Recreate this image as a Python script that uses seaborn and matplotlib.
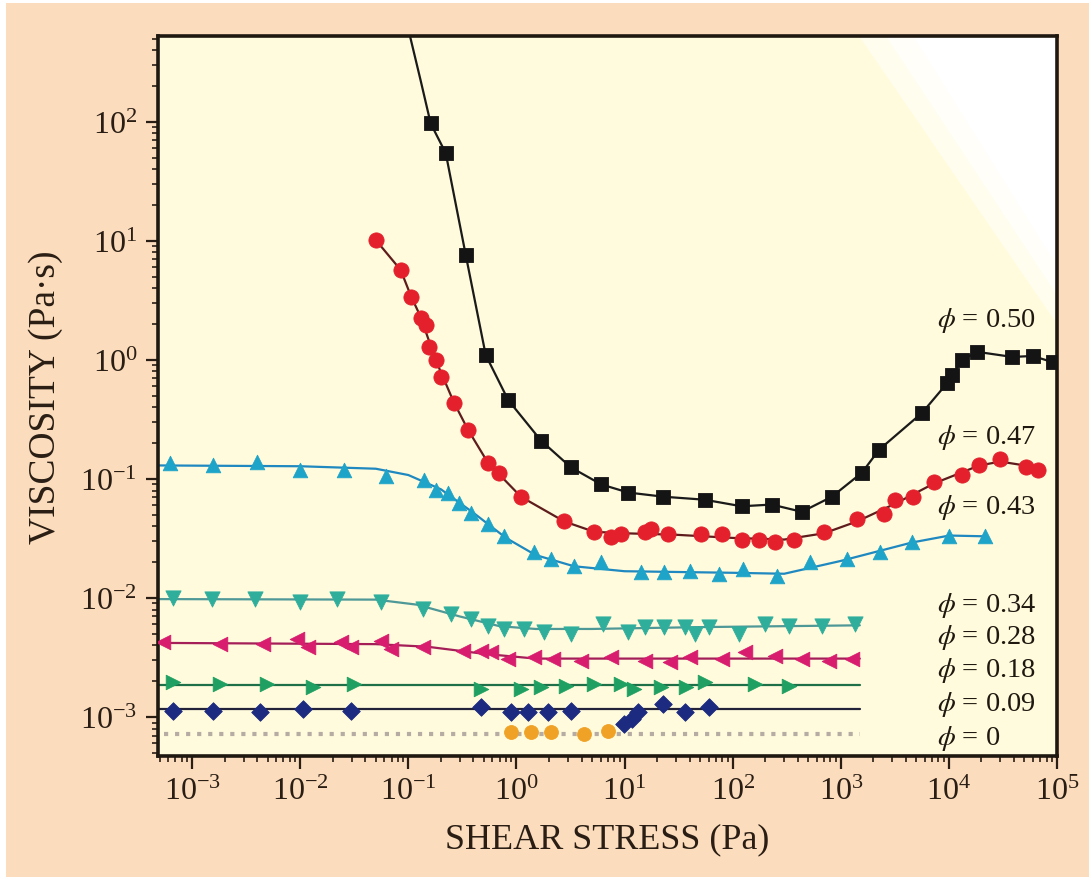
import numpy as np
import pandas as pd
import matplotlib
matplotlib.use("Agg")
import matplotlib.pyplot as plt
from matplotlib.patches import Rectangle, Polygon
from matplotlib.ticker import LogLocator, LogFormatterSciNotation, NullFormatter
import seaborn as sns

# ---------------- data: viscosity vs shear stress for several volume fractions ----------------
# phi = 0.50
x050 = [0.161, 0.222, 0.34, 0.52, 0.84, 1.69, 3.2, 6.1, 10.8, 22.9, 55, 121, 230, 437, 828,
        1570, 2260, 5660, 9660, 10760, 13300, 18300, 38700, 59400, 91000]
y050 = [97, 54.6, 7.6, 1.1, 0.46, 0.21, 0.125, 0.090, 0.077, 0.071, 0.067, 0.059, 0.061, 0.053,
        0.071, 0.113, 0.176, 0.36, 0.64, 0.75, 1.0, 1.17, 1.06, 1.08, 0.96]
fit_x050 = [0.098, 0.13] + x050 + [1.0e5]
fit_y050 = [650, 223] + y050 + [0.95]

# phi = 0.47
x047 = [0.0499, 0.085, 0.105, 0.130, 0.145, 0.154, 0.179, 0.2, 0.264, 0.356, 0.545, 0.69, 1.10,
        2.77, 5.25, 7.55, 9.3, 15.3, 17.7, 25.5, 51.5, 79, 121, 174, 245, 368, 698, 1413, 2518,
        3184, 4677, 7330, 13300, 19140, 30000, 51200, 66100]
y047 = [10.2, 5.7, 3.38, 2.25, 1.97, 1.29, 1.0, 0.72, 0.436, 0.26, 0.137, 0.113, 0.071,
        0.044, 0.0356, 0.0323, 0.0342, 0.0362, 0.0377, 0.0342, 0.0342, 0.0342, 0.031, 0.031,
        0.0293, 0.031, 0.0356, 0.0457, 0.0504, 0.067, 0.071, 0.095, 0.109, 0.132, 0.146, 0.127, 0.12]
fit_x047 = [0.0499, 0.085, 0.105, 0.13, 0.179, 0.264, 0.356, 0.545, 1.10, 2.77, 5.25, 10, 30,
            100, 300, 700, 1413, 3184, 7330, 19140, 30000, 66100]
fit_y047 = [10.2, 5.7, 3.5, 2.3, 1.0, 0.44, 0.26, 0.137, 0.071, 0.044, 0.036, 0.035, 0.034,
            0.032, 0.031, 0.035, 0.044, 0.062, 0.092, 0.13, 0.14, 0.125]

# phi = 0.43
x043 = [6.25e-4, 1.57e-3, 4.0e-3, 0.01, 0.0252, 0.0617, 0.139, 0.179, 0.232, 0.294, 0.379,
        0.546, 0.767, 1.46, 2.09, 3.42, 6.1, 14.3, 23.4, 39.9, 74, 126, 256, 518, 1143, 2312,
        4571, 10090, 21780]
y043 = [0.137, 0.132, 0.140, 0.120, 0.120, 0.105, 0.099, 0.0815, 0.0769, 0.0634, 0.0522,
        0.0415, 0.0329, 0.0242, 0.0211, 0.0185, 0.0199, 0.0164, 0.0164, 0.0168, 0.0158, 0.0174,
        0.0152, 0.0199, 0.0211, 0.0242, 0.0293, 0.0329, 0.0329]
fit_x043 = [4.84e-4, 0.01, 0.05, 0.1, 0.2, 0.4, 0.8, 1.5, 3.4, 10, 100, 300, 1000, 4571, 10090, 21780]
fit_y043 = [0.130, 0.128, 0.122, 0.108, 0.082, 0.052, 0.032, 0.023, 0.0185, 0.0168, 0.0163,
            0.0160, 0.0205, 0.0293, 0.0335, 0.0330]

# phi = 0.34
x034 = [6.67e-4, 1.53e-3, 3.84e-3, 0.01, 0.0221, 0.0555, 0.136, 0.247, 0.379, 0.546, 0.767,
        1.18, 1.80, 3.21, 6.36, 10.8, 15.3, 23.4, 35.9, 44.4, 59.9, 114, 198, 330, 670, 1355]
y034 = [0.0101, 0.00975, 0.00975, 0.0092, 0.00975, 0.0092, 0.00803, 0.0073, 0.00662, 0.0058,
        0.00547, 0.00547, 0.00515, 0.00497, 0.00603, 0.00515, 0.00567, 0.00567, 0.00567, 0.00497,
        0.00567, 0.00497, 0.00603, 0.0058, 0.0058, 0.00603]
fit_x034 = [4.84e-4, 0.05, 0.12, 0.3, 0.7, 1.5, 5, 50, 1500]
fit_y034 = [0.0098, 0.0097, 0.0088, 0.0070, 0.0058, 0.0055, 0.0055, 0.0057, 0.0059]

# phi = 0.28
x028 = [5.38e-4, 1.82e-3, 4.56e-3, 9.42e-3, 0.0117, 0.0236, 0.0292, 0.0555, 0.0687, 0.136, 0.32,
        0.47, 0.581, 0.836, 1.46, 2.19, 3.97, 7.55, 15.3, 26.1, 39.9, 79, 129, 245, 437, 778, 1270]
y028 = [0.00426, 0.00409, 0.00409, 0.00451, 0.00387, 0.00426, 0.00387, 0.00434, 0.00372,
        0.00387, 0.00357, 0.00357, 0.00351, 0.00306, 0.00318, 0.00306, 0.00294, 0.00318, 0.00294,
        0.00289, 0.00318, 0.00306, 0.00351, 0.00324, 0.00306, 0.00294, 0.00306]
fit_x028 = [4.84e-4, 0.05, 0.15, 0.5, 1.5, 10, 1500]
fit_y028 = [0.0042, 0.0041, 0.0039, 0.0034, 0.0031, 0.0031, 0.0031]

# phi = 0.18
x018 = [6.67e-4, 1.82e-3, 4.97e-3, 0.0132, 0.0312, 0.47, 1.10, 1.69, 2.88, 5.25, 9.3, 12.3,
        21.9, 37.4, 55, 160, 330]
y018 = [0.00196, 0.00189, 0.00189, 0.00178, 0.00189, 0.00172, 0.00172, 0.00178, 0.00182,
        0.00189, 0.00189, 0.00172, 0.00178, 0.00178, 0.00196, 0.00189, 0.00182]
fit_x018 = [4.84e-4, 1500]
fit_y018 = [0.00185, 0.00185]

# phi = 0.09
x009 = [6.67e-4, 1.57e-3, 4.28e-3, 0.0107, 0.0292, 0.47, 0.89, 1.28, 1.96, 3.21, 9.95, 11.6,
        13.4, 22.9, 35.9, 59.9]
y009 = [0.00112, 0.00112, 0.0011, 0.00117, 0.00112, 0.00121, 0.0011, 0.0011, 0.0011, 0.00112,
        0.00087, 0.00096, 0.0011, 0.00129, 0.0011, 0.00121]
fit_x009 = [4.84e-4, 1500]
fit_y009 = [0.00118, 0.00118]

# phi = 0
x000 = [0.89, 1.37, 2.09, 4.24, 7.08]
y000 = [0.00075, 0.00075, 0.00075, 0.00072, 0.00076]
fit_x000 = [5.5e-4, 1500]
fit_y000 = [0.00072, 0.00072]

phi_labels = ["0.50", "0.47", "0.43", "0.34", "0.28", "0.18", "0.09", "0"]
label_y = [2.17, 0.226, 0.0588, 0.00885, 0.00478, 0.00252, 0.00129, 0.00068]
label_x = 7.8e3

x_ticks = [1e-3, 1e-2, 1e-1, 1e0, 1e1, 1e2, 1e3, 1e4, 1e5]
y_ticks = [1e-3, 1e-2, 1e-1, 1e0, 1e1, 1e2]

# ---------------- styling ----------------
sns.set_style("ticks")
plt.rcParams["font.family"] = ["Liberation Serif", "DejaVu Serif"]
plt.rcParams["mathtext.fontset"] = "stix"

series = [
    # x, y, fit_x, fit_y, marker, marker colour, line colour, line style, marker size
    (x050, y050, fit_x050, fit_y050, "s", "#141414", "#1a1a1a", "-", 95),
    (x047, y047, fit_x047, fit_y047, "o", "#e3202c", "#5e1c1c", "-", 120),
    (x043, y043, fit_x043, fit_y043, "^", "#1ea4c8", "#1f88c0", "-", 110),
    (x034, y034, fit_x034, fit_y034, "v", "#2fae9c", "#4f9898", "-", 120),
    (x028, y028, fit_x028, fit_y028, "<", "#d81c6e", "#a41e58", "-", 110),
    (x018, y018, fit_x018, fit_y018, ">", "#1fa062", "#1d7048", "-", 110),
    (x009, y009, fit_x009, fit_y009, "D", "#1c2a80", "#22223a", "-", 80),
    (x000, y000, fit_x000, fit_y000, "o", "#f0a226", "#b6aca4", ":", 100),
]

fig = plt.figure(figsize=(10.89, 8.78), dpi=100)
fig.patch.set_facecolor("#fbdcbd")
# thin white margin along the top and left edges
fig.patches.append(Rectangle((0, 1 - 4 / 878), 1, 4 / 878, transform=fig.transFigure,
                             facecolor="white", edgecolor="none", zorder=-10))
fig.patches.append(Rectangle((0, 0), 6 / 1089, 1, transform=fig.transFigure,
                             facecolor="white", edgecolor="none", zorder=-10))

ax = fig.add_axes([0.1451, 0.1378, 0.8255, 0.8200])
ax.set_facecolor("#fffbdc")

# soft white area in the upper right corner of the plotting area
for verts, a in [([(0.78, 1.0), (1.0, 1.0), (1.0, 0.60)], 0.5),
                 ([(0.81, 1.0), (1.0, 1.0), (1.0, 0.64)], 0.7),
                 ([(0.84, 1.0), (1.0, 1.0), (1.0, 0.68)], 1.0)]:
    ax.add_patch(Polygon(verts, closed=True, transform=ax.transAxes,
                         facecolor="white", edgecolor="none", alpha=a, zorder=0.5))

for xs, ys, fx, fy, mk, mc, lc, ls, ms in series:
    fit = pd.DataFrame({"stress": fx, "visc": fy})
    pts = pd.DataFrame({"stress": xs, "visc": ys})
    sns.lineplot(data=fit, x="stress", y="visc", ax=ax, color=lc, linestyle=ls,
                 linewidth=3.0 if ls == ":" else 1.6, estimator=None, sort=False, zorder=2)
    sns.scatterplot(data=pts, x="stress", y="visc", ax=ax, marker=mk, s=ms, color=mc,
                    edgecolor=mc, linewidth=0.6, zorder=3, legend=False)

ax.set_xscale("log")
ax.set_yscale("log")
ax.set_xlim(4.84e-4, 1.0e5)
ax.set_ylim(4.71e-4, 526)

ax.xaxis.set_major_locator(plt.FixedLocator(x_ticks))
ax.yaxis.set_major_locator(plt.FixedLocator(y_ticks))
ax.xaxis.set_major_formatter(LogFormatterSciNotation())
ax.yaxis.set_major_formatter(LogFormatterSciNotation())
ax.xaxis.set_minor_locator(LogLocator(base=10, subs=np.arange(2, 10), numticks=20))
ax.yaxis.set_minor_locator(LogLocator(base=10, subs=np.arange(2, 10), numticks=20))
ax.xaxis.set_minor_formatter(NullFormatter())
ax.yaxis.set_minor_formatter(NullFormatter())

ax.tick_params(axis="both", which="major", direction="out", length=9, width=1.6,
               labelsize=23, colors="#2a1e14", pad=6)
ax.tick_params(axis="both", which="minor", direction="out", length=4.5, width=1.2,
               colors="#2a1e14")
ax.tick_params(top=False, right=False)

for side in ["left", "bottom", "top", "right"]:
    ax.spines[side].set_visible(True)
    ax.spines[side].set_linewidth(2.6)
    ax.spines[side].set_color("#1e1810")

ax.set_xlabel("SHEAR STRESS (Pa)", fontsize=26, color="#2a1e14", labelpad=12)
ax.set_ylabel("VISCOSITY (Pa·s)", fontsize=27, color="#2a1e14", labelpad=12)

for lab, ly in zip(phi_labels, label_y):
    ax.text(label_x, ly, r"$\phi$ = " + lab, fontsize=20.5, color="#1e1810",
            ha="left", va="center", zorder=4)

fig.savefig("out.png", dpi=100, facecolor=fig.get_facecolor())
